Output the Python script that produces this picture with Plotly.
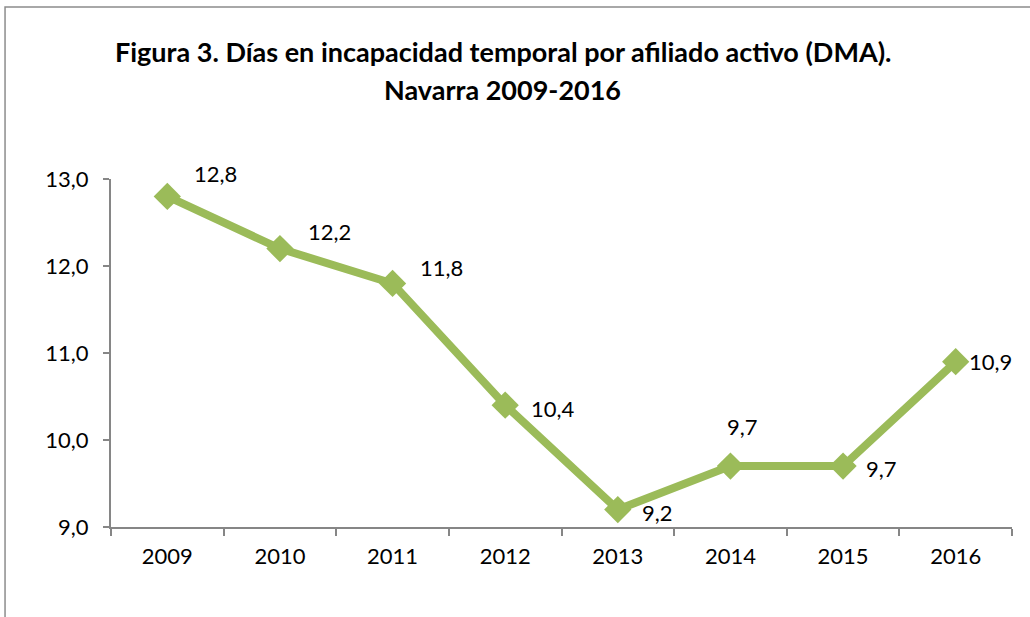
import plotly.graph_objects as go

years = ["2009", "2010", "2011", "2012", "2013", "2014", "2015", "2016"]
values = [12.8, 12.2, 11.8, 10.4, 9.2, 9.7, 9.7, 10.9]
labels = ["12,8", "12,2", "11,8", "10,4", "9,2", "9,7", "9,7", "10,9"]
# label offsets in pixels (x, y up-positive)
label_shift = [(48, 23), (50, 17), (49, 16), (48, -3), (40, -3), (12, 40), (38, -2), (35, 0)]

green = "#9BBB59"
axis_col = "#868686"
font_family = "Lato, 'Open Sans', sans-serif"

fig = go.Figure()
fig.add_trace(go.Scatter(
    x=years, y=values, mode="lines+markers",
    line=dict(color=green, width=8),
    marker=dict(symbol="diamond", size=21, color=green),
    hoverinfo="skip", showlegend=False,
))

for i, (v, lab, (dx, dy)) in enumerate(zip(values, labels, label_shift)):
    fig.add_annotation(x=i, y=v, text=lab, showarrow=False, xshift=dx, yshift=dy,
                       xanchor="center", yanchor="middle",
                       font=dict(family=font_family, size=22, color="#000000"))

fig.add_annotation(xref="paper", yref="paper", x=0.435, y=1.365, xanchor="center", yanchor="middle",
                   text="<b>Figura 3. Días en incapacidad temporal por afiliado activo (DMA).</b>",
                   showarrow=False, font=dict(family=font_family, size=27, color="#000000"))
fig.add_annotation(xref="paper", yref="paper", x=0.435, y=1.258, xanchor="center", yanchor="middle",
                   text="<b>Navarra 2009-2016</b>",
                   showarrow=False, font=dict(family=font_family, size=27, color="#000000"))

fig.add_shape(type="rect", xref="paper", yref="paper", x0=-0.1176, y0=-0.6, x1=1.2, y1=1.494,
              line=dict(color="#8c8c8c", width=1.5), fillcolor="rgba(0,0,0,0)", layer="below")

fig.update_layout(
    width=1030, height=617,
    margin=dict(l=111, r=18, t=179, b=90),
    paper_bgcolor="white", plot_bgcolor="white",
    separators=",.",
    font=dict(family=font_family, size=22, color="#000000"),
    xaxis=dict(type="category", range=[-0.5, 7.5], showgrid=False, showline=True,
               linecolor=axis_col, linewidth=2, ticks="outside", tickson="boundaries",
               ticklen=7, tickcolor=axis_col, tickwidth=2, zeroline=False,
               ticklabelstandoff=9, tickfont=dict(size=22)),
    yaxis=dict(range=[9, 13], dtick=1, tickformat=".1f", showgrid=False, showline=True,
               linecolor=axis_col, linewidth=2, ticks="outside", ticklen=6,
               tickcolor=axis_col, tickwidth=2, zeroline=False,
               ticklabelstandoff=10, tickfont=dict(size=22)),
)

fig.write_html("out.html")
